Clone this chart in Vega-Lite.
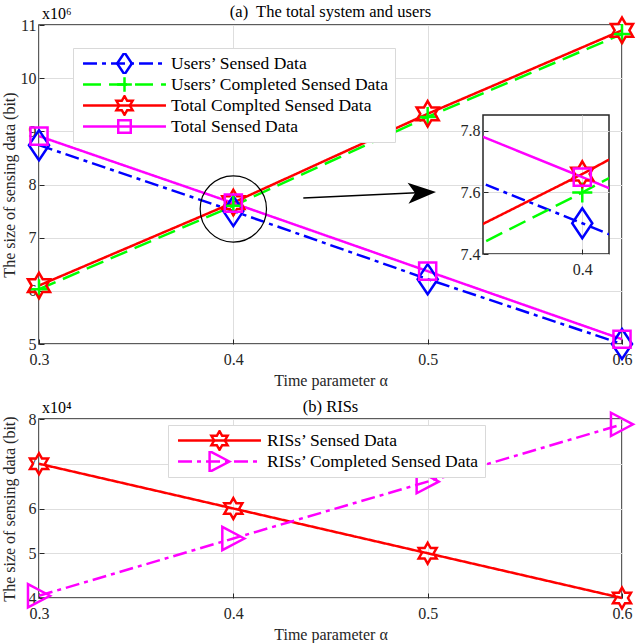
{
  "$schema": "https://vega.github.io/schema/vega-lite/v6.json",
  "padding": {"top": 2, "left": 0, "right": 0, "bottom": 0},
  "background": "white",
  "config": {
    "font": "Liberation Serif",
    "view": {"stroke": "#262626", "strokeWidth": 1.5},
    "axis": {
      "labelFont": "Liberation Serif", "labelFontSize": 16, "labelColor": "#262626",
      "titleFont": "Liberation Serif", "titleFontSize": 16, "titleFontWeight": "normal", "titleColor": "#262626",
      "gridColor": "#dedede", "domain": false, "tickColor": "#262626", "tickSize": -5, "tickWidth": 1,
      "labelFlush": false, "labelOverlap": false, "labelBound": false
    },
    "axisX": {"labelPadding": 12, "titlePadding": 5},
    "axisY": {"labelPadding": 8, "titlePadding": 3},
    "title": {"font": "Liberation Serif", "fontSize": 16.5, "fontWeight": "normal", "color": "black", "frame": "group"},
    "legend": {"labelFont": "Liberation Serif", "labelFontSize": 17.5, "labelColor": "black", "labelLimit": 400, "clipHeight": 21}
  },
  "datasets": {
    "top": [
      {"a": 0.3, "v": 8.74, "s": "Users’ Sensed Data"},
      {"a": 0.4, "v": 7.5, "s": "Users’ Sensed Data"},
      {"a": 0.5, "v": 6.22, "s": "Users’ Sensed Data"},
      {"a": 0.6, "v": 5.0, "s": "Users’ Sensed Data"},
      {"a": 0.3, "v": 6.03, "s": "Users’ Completed Sensed Data"},
      {"a": 0.4, "v": 7.6, "s": "Users’ Completed Sensed Data"},
      {"a": 0.5, "v": 9.27, "s": "Users’ Completed Sensed Data"},
      {"a": 0.6, "v": 10.83, "s": "Users’ Completed Sensed Data"},
      {"a": 0.3, "v": 6.1, "s": "Total Complted Sensed Data"},
      {"a": 0.4, "v": 7.66, "s": "Total Complted Sensed Data"},
      {"a": 0.5, "v": 9.33, "s": "Total Complted Sensed Data"},
      {"a": 0.6, "v": 10.9, "s": "Total Complted Sensed Data"},
      {"a": 0.3, "v": 8.91, "s": "Total Sensed Data"},
      {"a": 0.4, "v": 7.65, "s": "Total Sensed Data"},
      {"a": 0.5, "v": 6.37, "s": "Total Sensed Data"},
      {"a": 0.6, "v": 5.09, "s": "Total Sensed Data"}
    ],
    "bottom": [
      {"a": 0.3, "v": 7.0, "s": "RISs’ Sensed Data"},
      {"a": 0.4, "v": 6.0, "s": "RISs’ Sensed Data"},
      {"a": 0.5, "v": 5.0, "s": "RISs’ Sensed Data"},
      {"a": 0.6, "v": 4.0, "s": "RISs’ Sensed Data"},
      {"a": 0.3, "v": 4.05, "s": "RISs’ Completed Sensed Data"},
      {"a": 0.4, "v": 5.33, "s": "RISs’ Completed Sensed Data"},
      {"a": 0.5, "v": 6.6, "s": "RISs’ Completed Sensed Data"},
      {"a": 0.6, "v": 7.88, "s": "RISs’ Completed Sensed Data"}
    ],
    "circle": [{"a": 0.4, "v": 7.54}],
    "arrow": [{"a": 0.436, "v": 7.746, "a2": 0.4971, "v2": 7.848}],
    "head": [{"a": 0.4971, "v": 7.848}],
    "exp6": [{"a": 0.3, "v": 11, "t": "x10⁶"}],
    "exp4": [{"a": 0.3, "v": 8, "t": "x10⁴"}]
  },
  "spacing": 8,
  "resolve": {
    "scale": {"x": "independent", "y": "independent", "color": "independent", "stroke": "independent", "shape": "independent", "strokeDash": "independent"},
    "legend": {"color": "independent", "stroke": "independent", "shape": "independent", "strokeDash": "independent"}
  },
  "vconcat": [
    {
      "columns": 2,
      "align": "none",
      "spacing": -180,
      "resolve": {
        "scale": {"x": "independent", "y": "independent", "color": "independent", "stroke": "independent", "shape": "independent", "strokeDash": "independent"},
        "legend": {"color": "independent", "stroke": "independent", "shape": "independent", "strokeDash": "independent"}
      },
      "concat": [
        {
          "width": 583,
          "height": 319,
          "title": {"text": "(a)\u00a0 The total system and users", "offset": -14},
          "data": {"name": "top"},
          "encoding": {
            "x": {"field": "a", "type": "quantitative", "scale": {"domain": [0.3, 0.6], "nice": false, "zero": false},
                  "axis": {"values": [0.3, 0.4, 0.5, 0.6], "format": ".1f", "title": "Time parameter α"}},
            "y": {"field": "v", "type": "quantitative", "scale": {"domain": [5, 11], "nice": false, "zero": false},
                  "axis": {"values": [5, 6, 7, 8, 9, 10, 11], "title": "The size of sensing data (bit)"}}
          },
          "layer": [
            {
              "mark": {"type": "line", "strokeWidth": 2.5},
              "encoding": {
                "color": {"field": "s", "type": "nominal",
                  "scale": {"domain": ["Users’ Sensed Data", "Users’ Completed Sensed Data", "Total Complted Sensed Data", "Total Sensed Data"],
                            "range": ["#0000ff", "#00ff00", "#ff0000", "#ff00ff"]},
                  "legend": {"orient": "none", "legendX": 34, "legendY": 23, "title": null,
                    "symbolType": "M-3.77,0H3.77", "symbolSize": 484, "symbolStrokeWidth": 2.5,
                    "symbolOffset": 34, "labelOffset": 34, "padding": 5, "rowPadding": 0,
                    "fillColor": "white", "strokeColor": "#d9d9d9"}},
                "strokeDash": {"field": "s", "type": "nominal",
                  "scale": {"domain": ["Users’ Sensed Data", "Users’ Completed Sensed Data", "Total Complted Sensed Data", "Total Sensed Data"],
                            "range": [[14, 5, 4, 5], [18, 8], [1, 0], [1, 0]]}}
              }
            },
            {
              "mark": {"type": "point", "filled": false, "size": 900, "strokeWidth": 2.5, "opacity": 1},
              "encoding": {
                "stroke": {"field": "s", "type": "nominal",
                  "scale": {"domain": ["Total Sensed Data", "Total Complted Sensed Data", "Users’ Completed Sensed Data", "Users’ Sensed Data"],
                            "range": ["#ff00ff", "#ff0000", "#00ff00", "#0000ff"]},
                  "legend": {"orient": "none", "legendX": 34, "legendY": 23, "title": null,
                    "values": ["Users’ Sensed Data", "Users’ Completed Sensed Data", "Total Complted Sensed Data", "Total Sensed Data"],
                    "symbolSize": 484, "symbolStrokeWidth": 2.5, "symbolFillColor": "transparent",
                    "symbolOffset": 34, "labelOffset": 34, "padding": 5, "rowPadding": 0,
                    "labelColor": "transparent"}},
                "shape": {"field": "s", "type": "nominal",
                  "scale": {"domain": ["Total Sensed Data", "Total Complted Sensed Data", "Users’ Completed Sensed Data", "Users’ Sensed Data"],
                            "range": ["M-0.57,-0.57H0.57V0.57H-0.57Z",
                                      "M0,-0.85L0.245,-0.425L0.736,-0.425L0.491,0L0.736,0.425L0.245,0.425L0,0.85L-0.245,0.425L-0.736,0.425L-0.491,0L-0.736,-0.425L-0.245,-0.425Z",
                                      "M-0.67,0H0.67M0,-0.67V0.67",
                                      "M0,-1L0.67,0L0,1L-0.67,0Z"]}}
              }
            },
            {
              "data": {"name": "circle"},
              "mark": {"type": "point", "shape": "circle", "size": 4400, "filled": false, "stroke": "black", "strokeWidth": 1.2, "opacity": 1}
            },
            {
              "data": {"name": "arrow"},
              "mark": {"type": "rule", "stroke": "black", "strokeWidth": 1.5},
              "encoding": {"x2": {"field": "a2"}, "y2": {"field": "v2"}}
            },
            {
              "data": {"name": "head"},
              "mark": {"type": "point", "shape": "M1,0L-1,-0.75L-0.5,0L-1,0.75Z", "size": 784, "filled": true, "fill": "black", "strokeWidth": 0, "angle": -2.6, "opacity": 1}
            },
            {
              "data": {"name": "exp6"},
              "mark": {"type": "text", "align": "left", "baseline": "alphabetic", "dx": 3, "dy": -6, "fontSize": 16, "font": "Liberation Serif", "color": "black"},
              "encoding": {"text": {"field": "t"}}
            }
          ]
        },
        {
          "spacing": 0,
          "vconcat": [
            {
              "width": 10,
              "height": 89,
              "view": {"stroke": null},
              "data": {"values": []},
              "mark": {"type": "point", "opacity": 0}
            },
            {
              "width": 126,
              "height": 139,
              "view": {"fill": "white", "stroke": "#262626", "strokeWidth": 1.5},
              "data": {"name": "top"},
              "encoding": {
                "x": {"field": "a", "type": "quantitative", "scale": {"domain": [0.3896, 0.4028], "nice": false, "zero": false},
                      "axis": {"values": [0.4], "format": ".1f", "title": null}},
                "y": {"field": "v", "type": "quantitative", "scale": {"domain": [7.4, 7.852], "nice": false, "zero": false},
                      "axis": {"values": [7.4, 7.6, 7.8], "format": ".1f", "title": null}}
              },
              "layer": [
                {
                  "mark": {"type": "line", "strokeWidth": 2.5, "clip": true},
                  "encoding": {
                    "color": {"field": "s", "type": "nominal", "legend": null,
                      "scale": {"domain": ["Users’ Sensed Data", "Users’ Completed Sensed Data", "Total Complted Sensed Data", "Total Sensed Data"],
                                "range": ["#0000ff", "#00ff00", "#ff0000", "#ff00ff"]}},
                    "strokeDash": {"field": "s", "type": "nominal", "legend": null,
                      "scale": {"domain": ["Users’ Sensed Data", "Users’ Completed Sensed Data", "Total Complted Sensed Data", "Total Sensed Data"],
                                "range": [[14, 5, 4, 5], [18, 8], [1, 0], [1, 0]]}}
                  }
                },
                {
                  "mark": {"type": "point", "filled": false, "size": 900, "strokeWidth": 2.5, "opacity": 1, "clip": true},
                  "encoding": {
                    "stroke": {"field": "s", "type": "nominal", "legend": null,
                      "scale": {"domain": ["Total Sensed Data", "Total Complted Sensed Data", "Users’ Completed Sensed Data", "Users’ Sensed Data"],
                                "range": ["#ff00ff", "#ff0000", "#00ff00", "#0000ff"]}},
                    "shape": {"field": "s", "type": "nominal", "legend": null,
                      "scale": {"domain": ["Total Sensed Data", "Total Complted Sensed Data", "Users’ Completed Sensed Data", "Users’ Sensed Data"],
                                "range": ["M-0.57,-0.57H0.57V0.57H-0.57Z",
                                          "M0,-0.85L0.245,-0.425L0.736,-0.425L0.491,0L0.736,0.425L0.245,0.425L0,0.85L-0.245,0.425L-0.736,0.425L-0.491,0L-0.736,-0.425L-0.245,-0.425Z",
                                          "M-0.67,0H0.67M0,-0.67V0.67",
                                          "M0,-1L0.67,0L0,1L-0.67,0Z"]}}
                  }
                }
              ]
            }
          ]
        }
      ]
    },
    {
      "width": 583,
      "height": 179,
      "title": {"text": "(b) RISs", "offset": -15},
      "data": {"name": "bottom"},
      "encoding": {
        "x": {"field": "a", "type": "quantitative", "scale": {"domain": [0.3, 0.6], "nice": false, "zero": false},
              "axis": {"values": [0.3, 0.4, 0.5, 0.6], "format": ".1f", "title": "Time parameter α"}},
        "y": {"field": "v", "type": "quantitative", "scale": {"domain": [4, 8], "nice": false, "zero": false},
              "axis": {"values": [4, 5, 6, 7, 8], "title": "The size of sensing data (bit)", "titlePadding": 11}}
      },
      "layer": [
        {
          "mark": {"type": "line", "strokeWidth": 2.5},
          "encoding": {
            "color": {"field": "s", "type": "nominal",
              "scale": {"domain": ["RISs’ Sensed Data", "RISs’ Completed Sensed Data"], "range": ["#ff0000", "#ff00ff"]},
              "legend": {"orient": "none", "legendX": 129, "legendY": 6, "title": null,
                "symbolType": "M-3.77,0H3.77", "symbolSize": 484, "symbolStrokeWidth": 2.5,
                "symbolOffset": 34, "labelOffset": 35, "padding": 5, "rowPadding": 0,
                "fillColor": "white", "strokeColor": "#d9d9d9"}},
            "strokeDash": {"field": "s", "type": "nominal",
              "scale": {"domain": ["RISs’ Sensed Data", "RISs’ Completed Sensed Data"], "range": [[1, 0], [14, 5, 4, 5]]}}
          }
        },
        {
          "mark": {"type": "point", "filled": false, "size": 600, "strokeWidth": 2.5, "opacity": 1},
          "encoding": {
            "stroke": {"field": "s", "type": "nominal",
              "scale": {"domain": ["RISs’ Completed Sensed Data", "RISs’ Sensed Data"], "range": ["#ff00ff", "#ff0000"]},
              "legend": {"orient": "none", "legendX": 129, "legendY": 6, "title": null,
                "values": ["RISs’ Sensed Data", "RISs’ Completed Sensed Data"],
                "symbolSize": 484, "symbolStrokeWidth": 2.5, "symbolFillColor": "transparent",
                "symbolOffset": 34, "labelOffset": 35, "padding": 5, "rowPadding": 0,
                "labelColor": "transparent"}},
            "shape": {"field": "s", "type": "nominal",
              "scale": {"domain": ["RISs’ Completed Sensed Data", "RISs’ Sensed Data"],
                        "range": ["M0.9,0L-0.9,-0.95L-0.9,0.95Z",
                                  "M0,-0.85L0.245,-0.425L0.736,-0.425L0.491,0L0.736,0.425L0.245,0.425L0,0.85L-0.245,0.425L-0.736,0.425L-0.491,0L-0.736,-0.425L-0.245,-0.425Z"]}}
          }
        },
        {
          "data": {"name": "exp4"},
          "mark": {"type": "text", "align": "left", "baseline": "alphabetic", "dx": 3, "dy": -6, "fontSize": 16, "font": "Liberation Serif", "color": "black"},
          "encoding": {"text": {"field": "t"}}
        }
      ]
    }
  ]
}
